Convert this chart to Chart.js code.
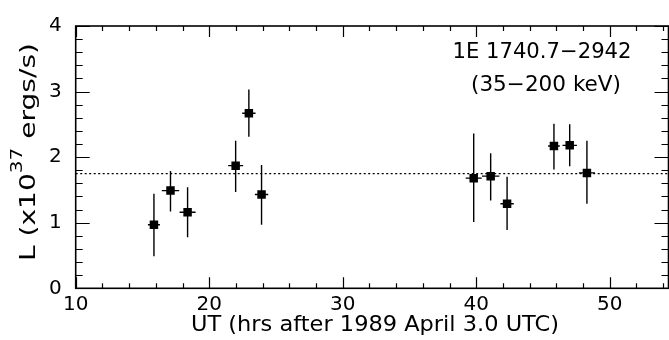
<!DOCTYPE html>
<html>
<head>
<meta charset="utf-8">
<script src="https://cdn.jsdelivr.net/npm/chart.js@4.4.1/dist/chart.umd.min.js"></script>
<style>
  html, body { margin: 0; padding: 0; background: #fff; }
  #wrap { width: 669px; height: 340px; }
</style>
</head>
<body>
<div id="wrap"><canvas id="lumChart"></canvas></div>
<script>
// hours after 1989 April 3.0 UTC
const times = [15.86, 17.1, 18.38, 21.98, 22.97, 23.92, 39.81, 41.08, 42.31, 45.82, 47.0, 48.29];
// luminosity, 1e37 erg/s
const lum = [0.97, 1.49, 1.16, 1.87, 2.67, 1.43, 1.68, 1.71, 1.29, 2.17, 2.18, 1.76];
const lumLow = [0.49, 1.17, 0.78, 1.47, 2.31, 0.97, 1.01, 1.34, 0.89, 1.81, 1.86, 1.29];
const lumHigh = [1.44, 1.79, 1.54, 2.25, 3.03, 1.88, 2.36, 2.06, 1.70, 2.51, 2.50, 2.25];
const timeErr = [0.45, 0.65, 0.6, 0.56, 0.5, 0.5, 0.6, 0.65, 0.5, 0.44, 0.54, 0.6];
const meanLum = 1.75;
const xRange = [10, 54.4];
const yRange = [0, 4];
const xTickLabels = [10, 20, 30, 40, 50];
const yTickLabels = [0, 1, 2, 3, 4];

const FONT = "'DejaVu Sans', sans-serif";

const points = times.map((t, i) => ({ x: t, y: lum[i] }));

// draw text stretched to a given width, centred on (cx, cy)
function stretchText(ctx, parts, cx, cy, width) {
  let total = 0;
  parts.forEach(p => { ctx.font = p.size + "px " + FONT; p.w = ctx.measureText(p.text).width; total += p.w; });
  ctx.save();
  ctx.translate(cx, cy);
  ctx.scale(width / total, 1);
  ctx.textAlign = "left";
  ctx.textBaseline = "middle";
  let sx = -total / 2;
  parts.forEach(p => {
    ctx.font = p.size + "px " + FONT;
    ctx.fillText(p.text, sx, p.dy || 0);
    sx += p.w;
  });
  ctx.restore();
}

// error bars, minor ticks, box and titles
const framePlugin = {
  id: "frame",
  afterDatasetsDraw(chart) {
    const { ctx, chartArea: a, scales: { x, y } } = chart;
    ctx.save();
    ctx.strokeStyle = "#000";
    ctx.lineWidth = 1.4;
    ctx.beginPath();
    times.forEach((t, i) => {
      const px = x.getPixelForValue(t);
      const py = y.getPixelForValue(lum[i]);
      ctx.moveTo(px, y.getPixelForValue(lumLow[i]));
      ctx.lineTo(px, y.getPixelForValue(lumHigh[i]));
      ctx.moveTo(x.getPixelForValue(t - timeErr[i]), py);
      ctx.lineTo(x.getPixelForValue(t + timeErr[i]), py);
    });
    ctx.stroke();

    // box
    ctx.lineWidth = 1.6;
    ctx.strokeRect(a.left, a.top, a.right - a.left, a.bottom - a.top);

    // ticks on all four sides
    ctx.lineWidth = 1.2;
    ctx.beginPath();
    for (let v = 10; v <= xRange[1]; v += 2) {
      const px = Math.round(x.getPixelForValue(v)) + 0.5;
      const len = v % 10 === 0 ? 11 : 5;
      ctx.moveTo(px, a.bottom); ctx.lineTo(px, a.bottom - len);
      ctx.moveTo(px, a.top); ctx.lineTo(px, a.top + len);
    }
    for (let k = 0; k <= 20; k++) {
      const v = k * 0.2;
      const py = Math.round(y.getPixelForValue(v)) + 0.5;
      const len = k % 5 === 0 ? 14 : 7;
      ctx.moveTo(a.left, py); ctx.lineTo(a.left + len, py);
      ctx.moveTo(a.right, py); ctx.lineTo(a.right - len, py);
    }
    ctx.stroke();

    ctx.fillStyle = "#000";
    // labels inside the plot
    stretchText(ctx, [{ text: "1E 1740.7\u22122942", size: 21 }], 542, 53, 179);
    stretchText(ctx, [{ text: "(35\u2212200 keV)", size: 21 }], 546, 86, 150);

    // x title
    stretchText(ctx, [{ text: "UT (hrs after 1989 April 3.0 UTC)", size: 21 }], 375, 326, 368);

    // y title with superscript
    ctx.translate(30, 152);
    ctx.rotate(-Math.PI / 2);
    stretchText(ctx, [
      { text: "L (x10", size: 21 },
      { text: "37", size: 15, dy: -12 },
      { text: " ergs/s)", size: 21 }
    ], 0, 0, 218);
    ctx.restore();
  }
};

new Chart(document.getElementById("lumChart").getContext("2d"), {
  type: "scatter",
  data: {
    datasets: [
      {
        label: "1E 1740.7-2942",
        data: points,
        pointStyle: "rect",
        pointRadius: 6,
        backgroundColor: "#000",
        borderColor: "#000",
        borderWidth: 0
      },
      {
        type: "line",
        label: "mean",
        data: [{ x: xRange[0], y: meanLum }, { x: xRange[1], y: meanLum }],
        borderColor: "#000",
        borderWidth: 1.2,
        borderDash: [2, 2.5],
        pointRadius: 0,
        fill: false
      }
    ]
  },
  options: {
    responsive: true,
    maintainAspectRatio: false,
    animation: false,
    events: [],
    layout: { autoPadding: false, padding: { top: 17.5, right: 0.5, left: 0, bottom: 0 } },
    scales: {
      x: {
        type: "linear",
        min: xRange[0],
        max: xRange[1],
        afterBuildTicks: s => { s.ticks = xTickLabels.map(v => ({ value: v })); },
        afterFit: s => { s.height = 51.7; },
        grid: { display: false, drawTicks: false },
        border: { display: false },
        ticks: { color: "#000", font: { family: FONT, size: 20 }, padding: 4, maxRotation: 0 }
      },
      y: {
        min: yRange[0],
        max: yRange[1],
        afterBuildTicks: s => { s.ticks = yTickLabels.map(v => ({ value: v })); },
        afterFit: s => { s.width = 75.7; },
        grid: { display: false, drawTicks: false },
        border: { display: false },
        ticks: { color: "#000", font: { family: FONT, size: 20 }, padding: 14 }
      }
    },
    plugins: {
      legend: { display: false },
      tooltip: { enabled: false }
    }
  },
  plugins: [framePlugin]
});
</script>
</body>
</html>
